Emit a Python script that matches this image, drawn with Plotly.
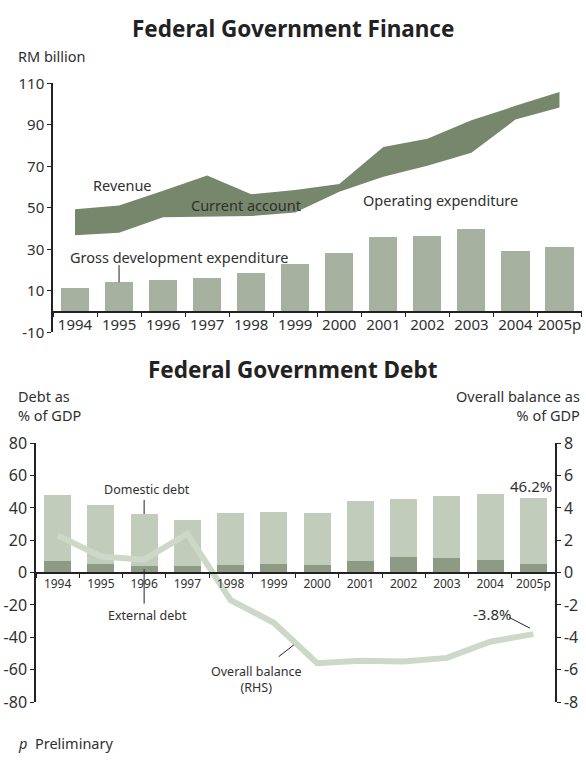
import plotly.graph_objects as go

# ---------------- data ----------------
years = ["1994", "1995", "1996", "1997", "1998", "1999", "2000",
         "2001", "2002", "2003", "2004", "2005p"]

# Federal Government Finance (RM billion)
revenue = [49.4, 51.2, 58.3, 65.6, 56.6, 58.7, 61.6, 79.4, 83.3, 92.3, 99.2, 105.9]
operating_exp = [36.9, 38.1, 45.5, 45.8, 46.1, 47.8, 57.8, 65.0, 70.3, 76.6, 92.6, 98.4]
gross_dev_exp = [11.3, 14.2, 15.1, 16.1, 18.5, 22.8, 28.1, 35.8, 36.7, 40.1, 29.5, 31.0]

# Federal Government Debt (% of GDP)
total_debt = [48.2, 41.6, 36.2, 32.6, 36.8, 37.4, 36.8, 44.0, 45.8, 47.6, 48.6, 46.2]
external_debt = [7.4, 5.6, 3.8, 4.4, 5.0, 5.6, 5.0, 7.4, 9.8, 9.2, 8.0, 5.6]
domestic_debt = [round(t - e, 1) for t, e in zip(total_debt, external_debt)]
overall_balance = [2.3, 1.0, 0.8, 2.4, -1.7, -3.1, -5.6, -5.45, -5.5, -5.27, -4.27, -3.8]

top_ticks = [-10, 10, 30, 50, 70, 90, 110]
left_ticks = [-80, -60, -40, -20, 0, 20, 40, 60, 80]
right_ticks = [-8, -6, -4, -2, 0, 2, 4, 6, 8]

# ---------------- styling ----------------
W, H = 586, 765
FONT = "Noto Sans"
TXT = "#303030"
AXC = "#222222"
BAND = "#76876c"
BAR_TOP = "#a6b1a0"
DOM = "#c1ccbb"
EXT = "#8d9b85"
LINE = "#cdd8c8"


def px_x(x):
    return x / W


def px_y(y):
    return 1 - y / H


# plot areas (pixels)
top_x = (53, 581.5)
top_y = (74.6, 331)
bot_x = (36, 555)
bot_y = (445, 711.5)

top_ydom = [px_y(top_y[1]), px_y(top_y[0])]
bot_ydom = [px_y(bot_y[1]), px_y(bot_y[0])]

fig = go.Figure()

# band: operating expenditure -> revenue
fig.add_trace(go.Scatter(x=years, y=operating_exp, mode="lines",
                         line=dict(width=0, color=BAND), xaxis="x", yaxis="y",
                         hoverinfo="skip", showlegend=False))
fig.add_trace(go.Scatter(x=years, y=revenue, mode="lines", fill="tonexty",
                         fillcolor=BAND, line=dict(width=0, color=BAND),
                         xaxis="x", yaxis="y", showlegend=False))
fig.add_trace(go.Bar(x=years, y=gross_dev_exp, marker=dict(color=BAR_TOP, line=dict(width=0)),
                     width=0.64, xaxis="x", yaxis="y", showlegend=False))

# debt bars
fig.add_trace(go.Bar(x=years, y=external_debt, marker=dict(color=EXT, line=dict(width=0)),
                     width=0.62, xaxis="x2", yaxis="y3", showlegend=False))
fig.add_trace(go.Bar(x=years, y=domestic_debt, marker=dict(color=DOM, line=dict(width=0)),
                     width=0.62, xaxis="x2", yaxis="y3", showlegend=False))
fig.add_trace(go.Scatter(x=years, y=overall_balance, mode="lines",
                         line=dict(width=6, color=LINE), xaxis="x2", yaxis="y4",
                         showlegend=False))

axis_common = dict(showgrid=False, zeroline=False, showline=True, linecolor=AXC,
                   linewidth=1.5, ticks="outside", tickcolor=AXC, ticklen=4,
                   tickwidth=1, fixedrange=True)

# zero positions for x axes
top_zero = top_ydom[0] + (top_ydom[1] - top_ydom[0]) * (0 - top_ticks[0]) / (top_ticks[-1] - top_ticks[0])
bot_zero = bot_ydom[0] + (bot_ydom[1] - bot_ydom[0]) * (0 - left_ticks[0]) / (left_ticks[-1] - left_ticks[0])

fig.update_layout(
    width=W, height=H, margin=dict(l=0, r=0, t=0, b=0),
    paper_bgcolor="white", plot_bgcolor="rgba(0,0,0,0)",
    font=dict(family=FONT, color=TXT, size=14),
    barmode="stack", showlegend=False,
    xaxis=dict(axis_common, type="category", domain=[px_x(top_x[0]), px_x(top_x[1])],
               anchor="free", position=top_zero, tickson="boundaries", tickangle=0,
               range=[-0.5, 11.5], tickfont=dict(size=15, color=TXT), ticklen=5),
    yaxis=dict(axis_common, domain=top_ydom, range=[top_ticks[0], top_ticks[-1]],
               tickmode="array", tickvals=top_ticks, ticktext=[str(v) for v in top_ticks],
               anchor="x", tickfont=dict(size=15, color=TXT)),
    xaxis2=dict(axis_common, type="category", domain=[px_x(bot_x[0]), px_x(bot_x[1])],
                anchor="free", position=bot_zero, tickson="boundaries", tickangle=0,
                range=[-0.5, 11.5], tickfont=dict(size=12, color=TXT), ticklen=5),
    yaxis3=dict(axis_common, domain=bot_ydom, range=[left_ticks[0], left_ticks[-1]],
                tickmode="array", tickvals=left_ticks, ticktext=[str(v) for v in left_ticks],
                anchor="x2", tickfont=dict(size=16, color=TXT)),
    yaxis4=dict(axis_common, overlaying="y3", side="right", anchor="x2",
                range=[right_ticks[0], right_ticks[-1]], tickmode="array",
                tickvals=right_ticks, ticktext=[str(v) for v in right_ticks],
                tickfont=dict(size=16, color=TXT)),
)


def note(text, x, y, xref, yref, size=14.5, **kw):
    d = dict(text=text, x=x, y=y, xref=xref, yref=yref, showarrow=False,
             xanchor="center", yanchor="middle", font=dict(size=size))
    d.update(kw)
    return d


ann = [
    # titles and captions (paper)
    note("<b>Federal Government Finance</b>", 0.5, px_y(18), "paper", "paper",
         font=dict(size=22.5, color="#222")),
    note("<b>Federal Government Debt</b>", 0.5, px_y(369), "paper", "paper",
         font=dict(size=22.5, color="#222")),
    note("RM billion", px_x(16), px_y(46), "paper", "paper", 14.5, xanchor="left"),
    note("Debt as<br>% of GDP", px_x(16), px_y(406), "paper", "paper", 14.5,
         xanchor="left", align="left"),
    note("Overall balance as<br>% of GDP", px_x(582), px_y(406), "paper", "paper", 14.5,
         xanchor="right", align="right"),
    note("<i>p</i>  Preliminary", px_x(16), px_y(754), "paper", "paper", 14.5, xanchor="left"),
    # top chart labels
    note("Revenue", 1.07, 61.1, "x", "y"),
    note("Current account", 3.88, 51.6, "x", "y"),
    note("Operating expenditure", 8.3, 53.6, "x", "y"),
    note("Gross development expenditure", 2.38, 26.5, "x", "y"),
    # bottom chart labels
    note("Domestic debt", 2.06, 51.4, "x2", "y3", 12.5),
    note("External debt", 2.08, -26.2, "x2", "y3", 12.5),
    note("Overall balance<br>(RHS)", 4.59, -6.62, "x2", "y4", 12.5),
    note(f"{total_debt[-1]}%", 10.95, 53.5, "x2", "y3", 15),
    note(f"{overall_balance[-1]}%", 10.05, -2.57, "x2", "y4", 15),
]
fig.update_layout(annotations=ann)

lc = dict(color="#222", width=1)
shapes = [
    dict(type="line", xref="x", yref="y", x0=1, x1=1, y0=gross_dev_exp[1], y1=22.5, line=lc),
    dict(type="line", xref="x2", yref="y3", x0=2, x1=2, y0=total_debt[2], y1=45, line=lc),
    dict(type="line", xref="x2", yref="y3", x0=2, x1=2, y0=2, y1=-19.2, line=lc),
    dict(type="line", xref="x2", yref="y4", x0=5.11, x1=5.46, y0=-5.2, y1=-4.47, line=lc),
    dict(type="line", xref="x2", yref="y4", x0=10.44, x1=10.92, y0=-2.77, y1=-3.43, line=lc),
]
fig.update_layout(shapes=shapes)

fig.write_html("out.html")
